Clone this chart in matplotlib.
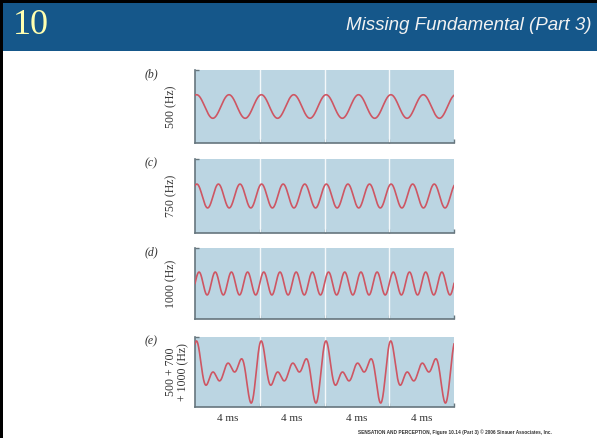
import numpy as np
import matplotlib
matplotlib.use("Agg")
import matplotlib.pyplot as plt
from matplotlib.patches import Rectangle

# ---------------- data ----------------
slide_number = "10"
slide_title = "Missing Fundamental (Part 3)"
panel_letters = ["(b)", "(c)", "(d)", "(e)"]
panel_ylabels = ["500 (Hz)", "750 (Hz)", "1000 (Hz)", "500 + 700\n+ 1000 (Hz)"]
component_freqs_hz = [500, 750, 1000]          # pure tones in panels b, c, d
component_offsets_ms = [0.40, 0.22, 0.00]
composite_offset_ms = 0.22                     # phase offset of the complex tone (panel e)
segment_labels = ["4 ms", "4 ms", "4 ms", "4 ms"]
segment_edges_ms = [0, 4, 8, 12, 16]
credit = "SENSATION AND PERCEPTION, Figure 10.14 (Part 3) \u00a9 2006 Sinauer Associates, Inc."

# ---------------- figure ----------------
W, H = 597, 438
fig = plt.figure(figsize=(W / 100, H / 100), dpi=100)
fig.patch.set_facecolor("white")


def fx(x):
    return x / W


def fy(y):
    return 1 - y / H


# header band and borders
fig.patches.append(Rectangle((0, fy(51)), 1, 51 / H, transform=fig.transFigure,
                             facecolor="#15578A", edgecolor="none", zorder=0))
fig.patches.append(Rectangle((0, fy(3)), 1, 3 / H, transform=fig.transFigure,
                             facecolor="black", edgecolor="none", zorder=1))
fig.patches.append(Rectangle((0, 0), 3 / W, 1, transform=fig.transFigure,
                             facecolor="black", edgecolor="none", zorder=1))

fig.text(fx(13), fy(26), slide_number, color="#FFFFB0", fontsize=26,
         family="Liberation Serif", ha="left", va="center")
fig.text(fx(592), fy(25), slide_title, color="#F2F2F2", fontsize=13.5,
         family="Liberation Sans", style="italic", ha="right", va="center")

# panel geometry (pixels): top, bottom
panel_tb = [(70, 143), (159, 233), (248, 319), (337, 407)]
left_px, right_px = 195, 454

t = np.linspace(segment_edges_ms[0], segment_edges_ms[-1], 3000)
waves = []
for f, off in zip(component_freqs_hz, component_offsets_ms):
    waves.append(np.sin(2 * np.pi * f / 1000.0 * (t + off)))
composite = sum(np.sin(2 * np.pi * f / 1000.0 * (t + composite_offset_ms))
                for f in component_freqs_hz)
waves.append(composite)

bg = "#BBD5E2"
wave_color = "#CE5663"
spine_color = "#66767E"

for i, ((top, bot), y) in enumerate(zip(panel_tb, waves)):
    ax = fig.add_axes([fx(left_px), fy(bot), (right_px - left_px) / W, (bot - top) / H])
    ax.set_facecolor(bg)
    ax.plot(t, y, color=wave_color, lw=1.2, zorder=3)
    for e in segment_edges_ms[1:-1]:
        ax.axvline(e, color="#F4F8FA", lw=1.0, zorder=2)
    ax.set_xlim(segment_edges_ms[0], segment_edges_ms[-1])
    ax.set_ylim(-3.1, 3.1)
    for s in ["top", "right"]:
        ax.spines[s].set_visible(False)
    for s in ["left", "bottom"]:
        ax.spines[s].set_color(spine_color)
        ax.spines[s].set_linewidth(1.2)
    ax.set_xticks(segment_edges_ms[1:])
    ax.set_yticks([3.1])
    ax.tick_params(direction="in", length=3, width=1, colors=spine_color,
                   labelbottom=False, labelleft=False)
    # panel letter
    fig.text(fx(151), fy(top + 4), panel_letters[i], fontsize=8.5,
             family="Liberation Serif", style="italic", ha="center", va="center",
             color="#333333")
    # rotated frequency label
    cy = (top + bot) / 2
    if i < 3:
        fig.text(fx(171), fy(cy), panel_ylabels[i], fontsize=8.5, rotation=90,
                 family="Liberation Serif", ha="center", va="center", color="#333333")
    else:
        fig.text(fx(177), fy(cy), panel_ylabels[i], fontsize=8.5, rotation=90,
                 family="Liberation Serif", ha="center", va="center",
                 multialignment="center", color="#333333", linespacing=1.0)
    if i == 3:
        for k, lab in enumerate(segment_labels):
            xc = (segment_edges_ms[k] + segment_edges_ms[k + 1]) / 2
            ax.text(xc, -0.16, lab, transform=ax.get_xaxis_transform(),
                    fontsize=8, family="Liberation Serif", ha="center", va="center",
                    color="#333333")

fig.text(fx(455), fy(432), credit, fontsize=3.4, weight="bold", color="#333333",
         family="Liberation Sans", ha="center", va="center")

fig.savefig("out.png", dpi=100)
